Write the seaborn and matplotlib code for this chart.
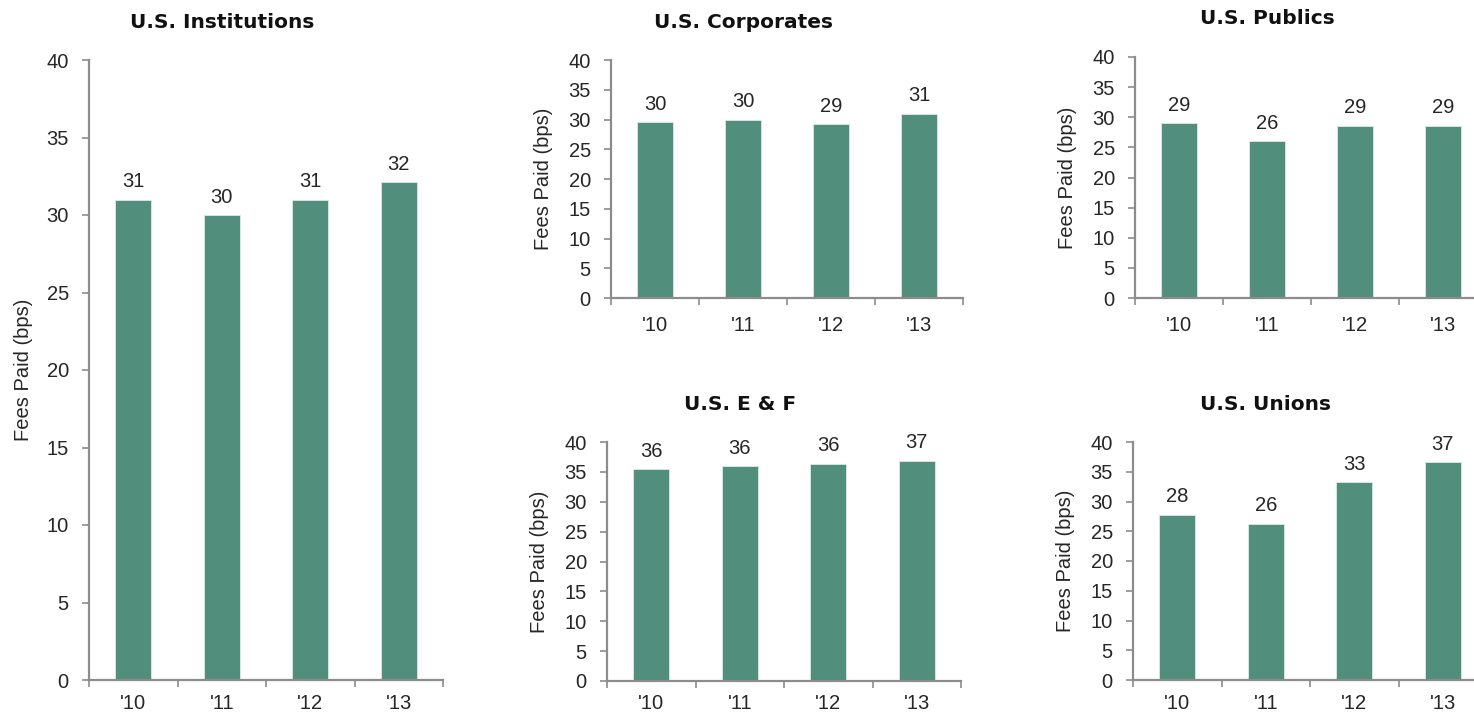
import matplotlib
matplotlib.use("Agg")
import matplotlib.pyplot as plt
import seaborn as sns
import pandas as pd

# Fee levels (bps) by investor segment and year
years = ["'10", "'11", "'12", "'13"]
institutions = [31.0, 30.0, 31.0, 32.1]
corporates = [29.5, 30.0, 29.2, 31.0]
publics = [29.0, 26.0, 28.6, 28.6]
endow_found = [35.5, 35.9, 36.4, 36.9]
unions = [27.8, 26.3, 33.3, 36.6]

titles = ["U.S. Institutions", "U.S. Corporates", "U.S. Publics",
          "U.S. E & F", "U.S. Unions"]
y_label = "Fees Paid (bps)"
y_ticks = [0, 5, 10, 15, 20, 25, 30, 35, 40]

sns.set_theme(style="white")
plt.rcParams["font.family"] = ["Liberation Sans", "DejaVu Sans"]

BAR = "#518E7C"
SPINE = "#8C8C8C"
TEXT = "#262626"
FS = 14.5

W, H = 1474, 714
fig = plt.figure(figsize=(W / 100, H / 100), dpi=100)


def px_axes(x0, x1, y_top, y_bot):
    return fig.add_axes([x0 / W, 1 - y_bot / H, (x1 - x0) / W, (y_bot - y_top) / H])


# axes, values, title, title height (px from top), y-label x, x-label pad
panels = [
    (px_axes(89, 443, 60, 680), institutions, titles[0], 22, -0.158, 10),
    (px_axes(611, 963, 60, 298), corporates, titles[1], 22, -0.165, 13),
    (px_axes(1135, 1487, 57, 298), publics, titles[2], 18, -0.165, 13),
    (px_axes(607, 961, 442, 681), endow_found, titles[3], 405, -0.165, 9.5),
    (px_axes(1133, 1487, 442, 680), unions, titles[4], 405, -0.165, 10),
]

for ax, vals, title, title_y, label_x, xpad in panels:
    df = pd.DataFrame({"year": years, "fees": vals})
    sns.barplot(data=df, x="year", y="fees", color=BAR, saturation=1,
                width=0.41, edgecolor="#DDE9E4", linewidth=0.6, ax=ax)
    for c in ax.containers:
        ax.bar_label(c, labels=[f"{v:.0f}" for v in vals], padding=6,
                     fontsize=FS, color=TEXT)

    ax.set_xlim(-0.5, len(years) - 0.5)
    ax.set_ylim(0, 40)
    ax.set_yticks(y_ticks)
    ax.set_xlabel("")
    ax.set_ylabel(y_label, fontsize=FS, color=TEXT)
    ax.yaxis.set_label_coords(label_x, 0.5)

    for side in ("top", "right"):
        ax.spines[side].set_visible(False)
    for side in ("left", "bottom"):
        ax.spines[side].set_color(SPINE)
        ax.spines[side].set_linewidth(1.6)

    # category boundary ticks on the x axis, labels centred on bars
    ax.set_xticks([i - 0.5 for i in range(len(years) + 1)], minor=True)
    ax.tick_params(axis="x", which="minor", length=5, width=1.2,
                   color=SPINE, direction="out", bottom=True)
    ax.tick_params(axis="x", which="major", length=0, pad=xpad,
                   labelsize=FS, labelcolor=TEXT)
    ax.tick_params(axis="y", length=5, width=1.2, color=SPINE,
                   direction="out", left=True, pad=9.5,
                   labelsize=FS, labelcolor=TEXT)

    bb = ax.get_position()
    fig.text(bb.x0 + 0.375 * bb.width, 1 - title_y / H, title,
             ha="center", va="center", fontsize=14.5, fontweight="bold",
             family="DejaVu Sans", color="#111111")

fig.savefig("out.png", dpi=100, facecolor="white")
